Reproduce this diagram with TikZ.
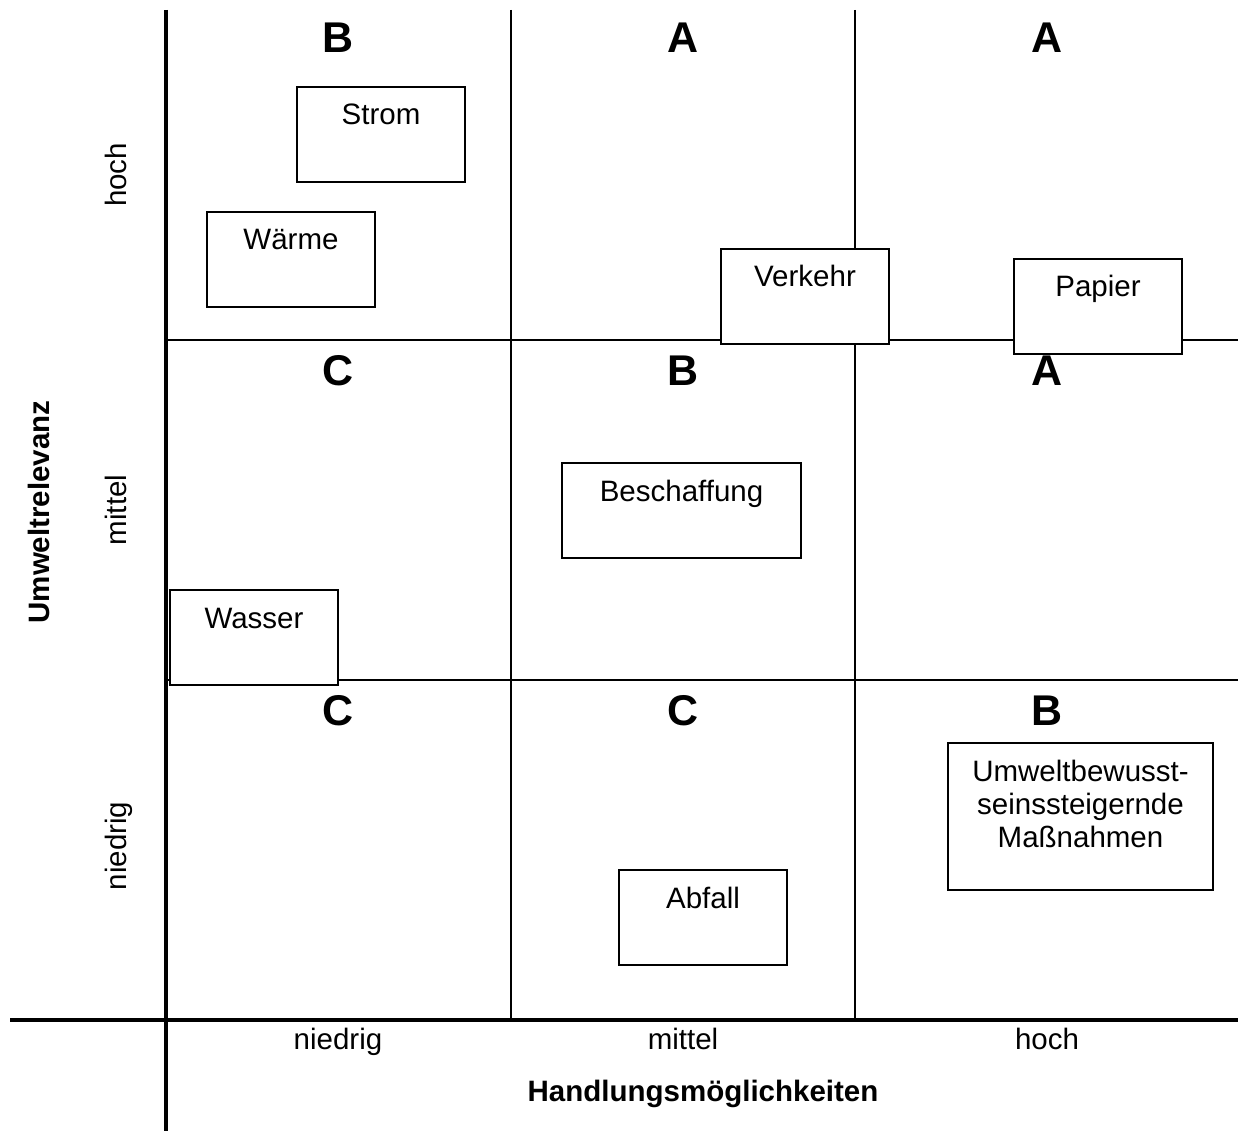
\documentclass[tikz,border=0pt]{standalone}
\usepackage{fontspec}
\setmainfont{Liberation Sans}
\begin{document}
\begin{tikzpicture}[x=1pt, y=-1pt,
	axis/.style={line width=4pt},
	gridline/.style={line width=2pt},
	grade/.style={anchor=base, font=\fontsize{43}{43}\selectfont\bfseries},
	level/.style={anchor=base, font=\fontsize{29.5}{33}\selectfont},
	title/.style={anchor=base, font=\fontsize{29.5}{33}\selectfont\bfseries},
	item/.style={draw, line width=2pt, fill=white, anchor=north west, outer sep=0pt, minimum width=168pt, inner xsep=0pt, inner ysep=0pt, text height=38pt, text depth=57pt, font=\fontsize{29.5}{33}\selectfont}]
	\useasboundingbox (0,0) rectangle (1238,1131);
	\draw[gridline] (511,10) -- (511,1020);
	\draw[gridline] (855,10) -- (855,1020);
	\draw[gridline] (165,340) -- (1238,340);
	\draw[gridline] (165,680) -- (1238,680);
	\draw[axis] (165.5,10) -- (165.5,1131);
	\draw[axis] (10,1020) -- (1238,1020);
	\node[grade] (g11) at (338,53) {B};
	\node[grade] (g12) at (683,53) {A};
	\node[grade] (g13) at (1047,53) {A};
	\node[grade] (g21) at (338,385.5) {C};
	\node[grade] (g22) at (683,385.5) {B};
	\node[grade] (g23) at (1047,385.5) {A};
	\node[grade] (g31) at (338,725.5) {C};
	\node[grade] (g32) at (683,725.5) {C};
	\node[grade] (g33) at (1047,725.5) {B};
	\node[item] (strom) at (297,87) {Strom};
	\node[item] (waerme) at (207,212) {Wärme};
	\node[item] (verkehr) at (721,249) {Verkehr};
	\node[item] (papier) at (1014,259) {Papier};
	\node[item, minimum width=239pt] (beschaffung) at (562,463) {Beschaffung};
	\node[item] (wasser) at (170,590) {Wasser};
	\node[item] (abfall) at (619,870) {Abfall};
	\node[item, minimum width=265pt, text width=260pt, align=center, text depth=109pt] (massnahmen) at (948,743) {Umweltbewusst-\\seinssteigernde\\Maßnahmen};
	\node[level] (xlow) at (338,1049) {niedrig};
	\node[level] (xmid) at (683,1049) {mittel};
	\node[level] (xhigh) at (1047,1049) {hoch};
	\node[title] (xtitle) at (703,1101) {Handlungsmöglichkeiten};
	\node[level, rotate=90] (yhigh) at (126,175) {hoch};
	\node[level, rotate=90] (ymid) at (126,510) {mittel};
	\node[level, rotate=90] (ylow) at (126,846) {niedrig};
	\node[title, rotate=90] (ytitle) at (49,512) {Umweltrelevanz};
\end{tikzpicture}
\end{document}
